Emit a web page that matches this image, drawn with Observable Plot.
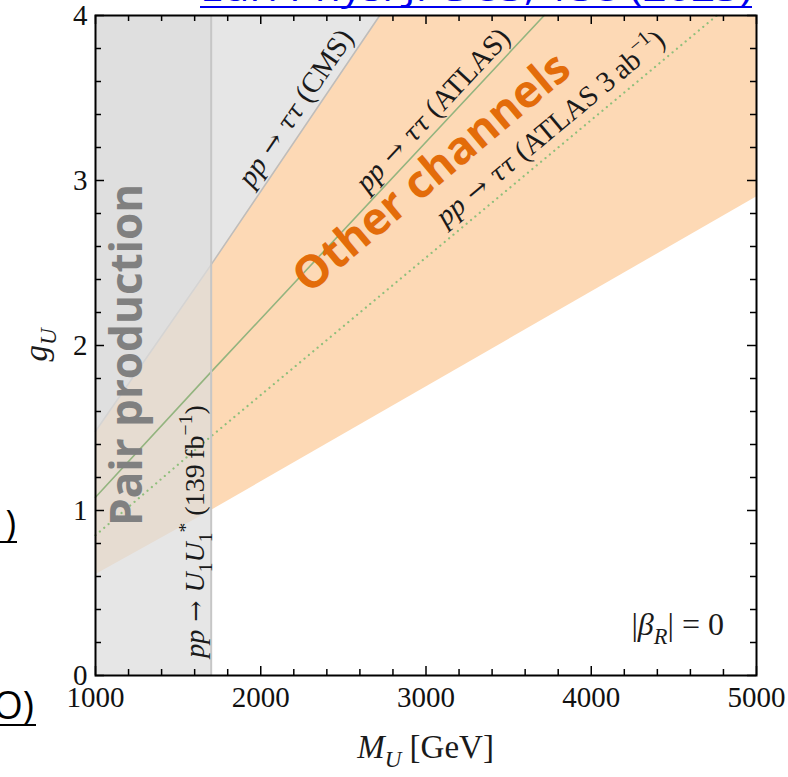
<!DOCTYPE html>
<html>
<head>
<meta charset="utf-8">
<script src="https://cdn.jsdelivr.net/npm/d3@7"></script>
<script src="https://cdn.jsdelivr.net/npm/@observablehq/plot@0.6"></script>
<style>
  html, body { margin: 0; padding: 0; background: #fff; }
  #chart svg { display: block; }
</style>
</head>
<body>
<div id="chart"></div>
<script>
// Vector leptoquark U1 limits in the (M_U, g_U) plane, |beta_R| = 0

// Pair-production exclusion (pp -> U1 U1*, 139 fb^-1), in GeV
const pairMassLimit = 1700;

// pp -> tau tau (CMS) exclusion boundary
const cmsMass = [1000, 1700, 2720];
const cmsCoupling = [1.48, 2.49, 4.0];

// pp -> tau tau (ATLAS) exclusion boundary
const atlasMass = [1000, 1700, 3715];
const atlasCoupling = [1.08, 1.84, 4.0];

// pp -> tau tau (ATLAS 3 ab^-1) projection
const hlMass = [1000, 1700, 4760];
const hlCoupling = [0.85, 1.45, 4.0];

// Lower edge of the region probed by other channels
const otherMass = [1000, 1700, 5000];
const otherCoupling = [0.61, 1.0, 2.9];

// Axis ticks
const xMajor = [1000, 2000, 3000, 4000, 5000];
const xMinor = [1200, 1400, 1600, 1800, 2200, 2400, 2600, 2800, 3200, 3400, 3600, 3800, 4200, 4400, 4600, 4800];
const yMajor = [0, 1, 2, 3, 4];
const yMinor = [0.2, 0.4, 0.6, 0.8, 1.2, 1.4, 1.6, 1.8, 2.2, 2.4, 2.6, 2.8, 3.2, 3.4, 3.6, 3.8];

const toRows = (ms, gs) => ms.map((m, i) => ({m, g: gs[i]}));
const cms = toRows(cmsMass, cmsCoupling);
const atlas = toRows(atlasMass, atlasCoupling);
const hl = toRows(hlMass, hlCoupling);
const other = toRows(otherMass, otherCoupling);

const W = 788, H = 777;
const mL = 95, mR = 32, mT = 15, mB = 102;
const innerW = W - mL - mR, innerH = H - mT - mB;
const serif = "'Liberation Serif', 'Times New Roman', serif";
const mathSerif = "'DejaVu Serif', serif";
const sans = "'Open Sans', 'Noto Sans', sans-serif";
const gMax = 4, mMin = 1000;

const plot = Plot.plot({
  width: W, height: H,
  marginLeft: mL, marginRight: mR, marginTop: mT, marginBottom: mB,
  x: {domain: [1000, 5000]},
  y: {domain: [0, 4]},
  style: {background: "white", fontFamily: serif, color: "#111"},
  marks: [
    // region reached by other channels
    Plot.areaY(other, {x: "m", y1: "g", y2: gMax, fill: "#fdd9b5"}),
    // CMS di-tau exclusion
    Plot.areaY(cms, {x: "m", y1: "g", y2: gMax, fill: "#e6e6e6"}),
    Plot.line(cms, {x: "m", y: "g", stroke: "#bdbdbd", strokeWidth: 1.5}),
    // pair-production exclusion strip
    Plot.rect([pairMassLimit], {x1: mMin, x2: d => d, y1: 0, y2: gMax, fill: "#dcdcdc", fillOpacity: 0.72}),
    // ATLAS di-tau limit and its high-luminosity projection
    Plot.line(atlas, {x: "m", y: "g", stroke: "#93b47f", strokeWidth: 1.6}),
    Plot.line(hl, {x: "m", y: "g", stroke: "#8fbf7c", strokeWidth: 2.2, strokeDasharray: "0.1,5.6", strokeLinecap: "round"}),
    Plot.ruleX([pairMassLimit], {stroke: "#c6c6c6", strokeWidth: 2}),
    // inward ticks on all four sides
    Plot.tickX(xMajor, {x: d => d, insetTop: innerH - 9, stroke: "#000", strokeWidth: 1.5}),
    Plot.tickX(xMinor, {x: d => d, insetTop: innerH - 6, stroke: "#000", strokeWidth: 1.5}),
    Plot.tickX(xMajor, {x: d => d, insetBottom: innerH - 9, stroke: "#000", strokeWidth: 1.5}),
    Plot.tickX(xMinor, {x: d => d, insetBottom: innerH - 6, stroke: "#000", strokeWidth: 1.5}),
    Plot.tickY(yMajor, {y: d => d, insetRight: innerW - 9, stroke: "#000", strokeWidth: 1.5}),
    Plot.tickY(yMinor, {y: d => d, insetRight: innerW - 6, stroke: "#000", strokeWidth: 1.5}),
    Plot.tickY(yMajor, {y: d => d, insetLeft: innerW - 9, stroke: "#000", strokeWidth: 1.5}),
    Plot.tickY(yMinor, {y: d => d, insetLeft: innerW - 6, stroke: "#000", strokeWidth: 1.5}),
    Plot.frame({stroke: "#000", strokeWidth: 2}),
    Plot.axisX(xMajor, {anchor: "bottom", tickSize: 0, tickPadding: 11, fontSize: 29, label: null, tickFormat: d => String(d)}),
    Plot.axisY(yMajor, {anchor: "left", tickSize: 0, tickPadding: 8, fontSize: 29, label: null, tickFormat: d => String(d)})
  ]
});

document.getElementById("chart").appendChild(plot);

const sx = plot.scale("x"), sy = plot.scale("y");
const X = v => sx.apply(v), Y = v => sy.apply(v);
const svg = d3.select(plot);
const layer = svg.append("g").attr("class", "annotations").attr("text-anchor", "start");

// text made of italic / roman runs with optional sub- and superscripts
function rich(parts, {x, y, angle = 0, size = 29, anchor = "middle", family = serif, fill = "#1a1a1a", weight = null}) {
  const t = layer.append("text")
    .attr("transform", `translate(${x},${y}) rotate(${angle})`)
    .attr("text-anchor", anchor)
    .attr("font-family", family)
    .attr("font-size", size)
    .attr("fill", fill);
  if (weight) t.attr("font-weight", weight);
  let shift = 0;
  for (const p of parts) {
    const s = t.append("tspan").text(p.t);
    if (p.i) s.attr("font-style", "italic");
    if (p.f) s.attr("font-family", p.f);
    const target = p.sub ? 0.28 * size : p.sup ? -0.42 * size : 0;
    if (target !== shift) { s.attr("dy", target - shift); shift = target; }
    if (p.sub || p.sup) s.attr("font-size", size * 0.7);
    else if (p.scale) s.attr("font-size", size * p.scale);
  }
  return t;
}

// point on a boundary at mass m, with the local direction in pixels
function along(ms, gs, m, offset) {
  let i = 0;
  while (i < ms.length - 2 && m > ms[i + 1]) i++;
  const f = (m - ms[i]) / (ms[i + 1] - ms[i]);
  const g = gs[i] + f * (gs[i + 1] - gs[i]);
  const dx = X(ms[i + 1]) - X(ms[i]), dy = Y(gs[i + 1]) - Y(gs[i]);
  const len = Math.hypot(dx, dy);
  const nx = dy / len, ny = -dx / len;
  return {x: X(m) + nx * offset, y: Y(g) + ny * offset, angle: Math.atan2(dy, dx) * 180 / Math.PI};
}

const pp = {t: "pp", i: true};
const to = {t: " \u2192 ", f: mathSerif, scale: 0.9};
const tautau = {t: "\u03C4\u03C4", i: true, f: mathSerif, scale: 0.85};
rich([pp, to, tautau, {t: " (CMS)"}], along(cmsMass, cmsCoupling, 2300, 8));
rich([pp, to, tautau, {t: " (ATLAS)"}], along(atlasMass, atlasCoupling, 3115, 7));
rich([pp, to, tautau, {t: " (ATLAS 3\u2009ab"}, {t: "\u22121", sup: true}, {t: ")"}],
  along(hlMass, hlCoupling, 3830, 10));
rich([pp, to, {t: "U", i: true}, {t: "1", sub: true}, {t: "U", i: true}, {t: "1", sub: true}, {t: "*", sup: true}, {t: " (139\u2009fb"}, {t: "\u22121", sup: true}, {t: ")"}],
  {x: X(pairMassLimit) - 7, y: Y(0.87), angle: -90, size: 28});

// region names
rich([{t: "Pair production"}], {x: X(1220) + 11, y: Y(1.94), angle: -90, size: 44, family: sans, fill: "#808080", weight: 700});
rich([{t: "Other channels"}], {x: X(3040) + 9, y: Y(3.05) + 12, angle: -40, size: 45, family: sans, fill: "#e36c0a", weight: 700});

// benchmark
rich([{t: "|"}, {t: "\u03B2", i: true}, {t: "R", i: true, sub: true}, {t: "| = 0"}], {x: X(4806), y: Y(0.24), anchor: "end", size: 32});

// axis titles
rich([{t: "M", i: true}, {t: "U", i: true, sub: true}, {t: " [GeV]"}], {x: (mL + W - mR) / 2, y: H - 19, size: 33});
rich([{t: "g", i: true}, {t: "U", i: true, sub: true}], {x: 47, y: (mT + H - mB) / 2, angle: -90, size: 33});

// slide text around the figure
layer.append("text").attr("x", 200).attr("y", 1).attr("text-anchor", "start").attr("font-family", sans).attr("font-size", 34)
  .attr("fill", "#0000ee").attr("textLength", 552).attr("lengthAdjust", "spacingAndGlyphs")
  .text("Eur. Phys. J. C 83, 138 (2023)");
layer.append("line").attr("x1", 200).attr("x2", 752).attr("y1", 7).attr("y2", 7).attr("stroke", "#0000ee").attr("stroke-width", 2);
layer.append("text").attr("x", 16).attr("y", 536).attr("text-anchor", "end").attr("font-family", sans).attr("font-size", 36).attr("fill", "#000").text(")");
layer.append("line").attr("x1", 0).attr("x2", 17).attr("y1", 542).attr("y2", 542).attr("stroke", "#000").attr("stroke-width", 2);
layer.append("text").attr("x", 34).attr("y", 719).attr("text-anchor", "end").attr("font-family", sans).attr("font-size", 38).attr("fill", "#000").text("O)");
layer.append("line").attr("x1", 0).attr("x2", 36).attr("y1", 725).attr("y2", 725).attr("stroke", "#000").attr("stroke-width", 2);
</script>
</body>
</html>
